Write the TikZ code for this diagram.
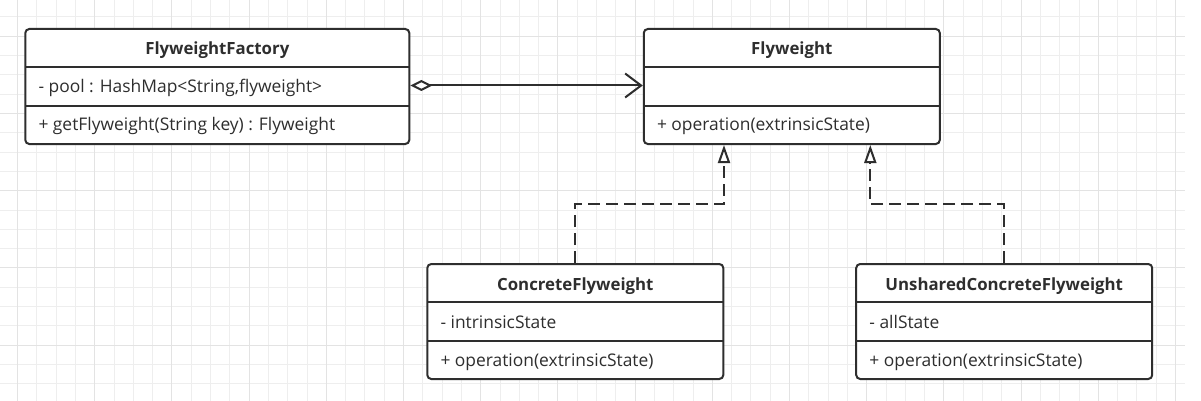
\documentclass[tikz,border=0pt]{standalone}
\usepackage{fontspec}
\setmainfont{Open Sans}
\usetikzlibrary{arrows.meta,calc}
\definecolor{ink}{HTML}{2E2E2E}
\definecolor{gridminor}{HTML}{EEEEEE}
\definecolor{gridmajor}{HTML}{E3E3E3}
\tikzset{
  classbox/.style={draw=ink, line width=2pt, rounded corners=4pt, fill=white,
    minimum height=115pt, inner sep=0pt, anchor=north},
  divider/.style={draw=ink, line width=2pt},
  ctitle/.style={font=\fontsize{16.8}{20}\selectfont\bfseries, text=ink, inner sep=0pt, anchor=base},
  cmember/.style={font=\fontsize{17.4}{20}\selectfont, text=ink, inner sep=0pt, anchor=base west},
  link/.style={draw=ink, line width=2pt},
  realize/.style={link, dash pattern=on 12pt off 6pt,
    -{Triangle[length=18pt,width=12pt,fill=white]}},
  aggregate/.style={link,
    {Diamond[length=22pt,width=11pt,fill=white]}-{Straight Barb[length=16pt,width=24pt]}},
  gminor/.style={draw=gridminor, line width=1pt},
  gmajor/.style={draw=gridmajor, line width=1pt},
}
% name, cx, outer top, width, title, attribute, method
\newcommand{\umlclass}[7]{%
  \node[classbox, minimum width=#4pt] (#1) at (#2,#3) {};
  \draw[divider] ($(#1.north west)+(1,39.3)$) -- ($(#1.north east)+(-1,39.3)$);
  \draw[divider] ($(#1.north west)+(1,78)$) -- ($(#1.north east)+(-1,78)$);
  \node[ctitle] (#1-title) at ($(#1.north)+(0,27)$) {#5};
  \node[cmember] (#1-attr) at ($(#1.north west)+(14,65)$) {#6};
  \node[cmember] (#1-meth) at ($(#1.north west)+(14,103)$) {#7};
}
\begin{document}
\begin{tikzpicture}[x=1pt,y=-1pt]
\useasboundingbox (0,0) rectangle (1201,401);
\fill[white] (0,0) rectangle (1201,401);
% grid
\foreach \i in {0,...,60} {
  \pgfmathsetmacro\xx{17.5+19.3*\i}
  \draw[gminor] (\xx,0) -- (\xx,401);
}
\foreach \j in {0,...,19} {
  \pgfmathsetmacro\yy{17+19.3*\j}
  \draw[gminor] (0,\yy) -- (1185,\yy);
}
\foreach \i in {0,...,15} {
  \pgfmathsetmacro\xx{17.5+77.2*\i}
  \draw[gmajor] (\xx,0) -- (\xx,401);
}
\foreach \j in {0,...,4} {
  \pgfmathsetmacro\yy{36.3+77.2*\j}
  \draw[gmajor] (0,\yy) -- (1185,\yy);
}
% classes
\umlclass{fac}{217.3}{28}{384}{FlyweightFactory}{- pool : HashMap<String,flyweight>}{+ getFlyweight(String key) : Flyweight}
\umlclass{fw}{791.8}{28}{296}{Flyweight}{}{+ operation(extrinsicState)}
\umlclass{cf}{575.3}{263}{296}{ConcreteFlyweight}{- intrinsicState}{+ operation(extrinsicState)}
\umlclass{uf}{1004.2}{263}{296}{UnsharedConcreteFlyweight}{- allState}{+ operation(extrinsicState)}
% connectors
\draw[aggregate] ([yshift=-57.5pt]fac.north east) -- ([yshift=-57.5pt]fw.north west);
\draw[realize] (cf.north) |- ($(fw.south)+(-67.8,59)$) -- ([xshift=-67.8pt]fw.south);
\draw[realize] (uf.north) |- ($(fw.south)+(78.5,59)$) -- ([xshift=78.5pt]fw.south);
\end{tikzpicture}
\end{document}
